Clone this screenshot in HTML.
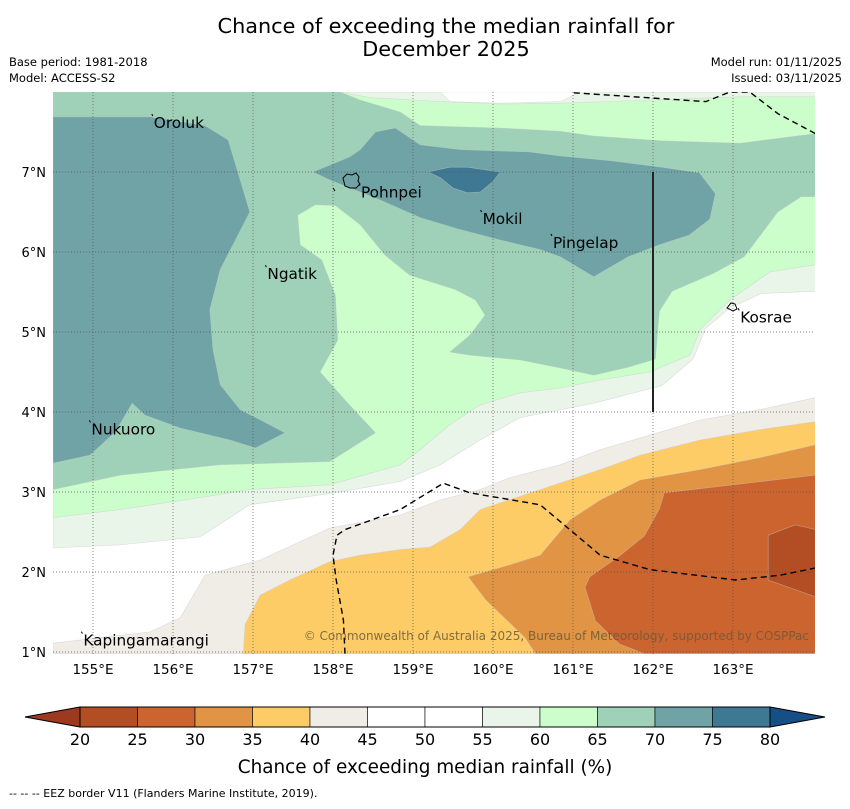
<!DOCTYPE html>
<html><head><meta charset="utf-8"><style>
html,body{margin:0;padding:0;background:#fff;}
svg text{font-family:"DejaVu Sans","Liberation Sans",sans-serif;}
</style></head><body>
<svg id="chart" width="850" height="804" viewBox="0 0 850 804" xmlns="http://www.w3.org/2000/svg">
<text x="446" y="33" font-size="20.8" text-anchor="middle">Chance of exceeding the median rainfall for</text>
<text x="446" y="56" font-size="20.8" text-anchor="middle">December 2025</text>
<text x="9" y="66" font-size="11.5">Base period: 1981-2018</text>
<text x="9" y="82" font-size="11.5">Model: ACCESS-S2</text>
<text x="842" y="66" font-size="11.5" text-anchor="end">Model run: 01/11/2025</text>
<text x="842" y="82" font-size="11.5" text-anchor="end">Issued: 03/11/2025</text>
<defs><clipPath id="mapclip"><rect x="53" y="92" width="762" height="562"/></clipPath></defs>
<g id="map" clip-path="url(#mapclip)"></g>
<g id="overlay"></g>
<g id="cbar"></g>
<text x="425" y="773" font-size="18.4" text-anchor="middle">Chance of exceeding median rainfall (%)</text>
<text x="9" y="797" font-size="11">--  --  -- EEZ border V11 (Flanders Marine Institute, 2019).</text>
</svg>
<script>
// ---- data ----
const lonTicks=[155,156,157,158,159,160,161,162,163];
const latTicks=[1,2,3,4,5,6,7];
const cbLevels=[20,25,30,35,40,45,50,55,60,65,70,75,80];
const cbColors=['#b34e24','#cc6430','#e09444','#fdcc66','#f0ece6','#ffffff','#ffffff','#eaf5ea','#ccfecc','#9fd1b8','#6fa3a6','#3f7893'];
const underColor='#9c3a20', overColor='#164f86';
const ge55=[[154.5,8],[164.03,8],[164.03,5.51],[163.35,5.48],[162.96,5.3],[162.66,5.05],[162.5,4.66],[162.11,4.33],[161.26,4.11],[160.34,3.93],[159.84,3.65],[159.34,3.34],[158.84,3.13],[157.96,2.98],[156.96,2.84],[156.34,2.44],[155.34,2.34],[154.5,2.3]];
const ge60=[[154.5,8],[164.03,8],[164.03,5.84],[163.46,5.75],[162.96,5.4],[162.59,5.03],[162.46,4.71],[161.96,4.5],[161.34,4.4],[160.84,4.3],[160.34,4.24],[159.84,4.09],[159.46,3.84],[159.09,3.53],[158.84,3.34],[157.96,3.09],[156.96,3.03],[156.34,2.93],[155.34,2.78],[154.5,2.68]];
const topStrip55=[[158.09,8],[164.03,8],[164.03,7.94],[163.09,7.94],[161.96,7.9],[160.84,7.86],[160.09,7.85],[159.34,7.88],[158.46,7.93]];
const topWhite=[[159.34,8],[161.09,8],[160.84,7.88],[160.09,7.86],[159.46,7.88]];
const ge65=[[154.5,8],[158.09,8],[158.34,7.9],[158.84,7.75],[159.09,7.58],[160.09,7.55],[160.84,7.51],[161.26,7.45],[162.11,7.39],[163.09,7.36],[164.03,7.48],[164.03,6.69],[163.85,6.69],[163.56,6.5],[163.14,5.94],[162.75,5.73],[162.24,5.51],[162.08,5.26],[162.03,4.66],[161.69,4.56],[161.26,4.46],[160.84,4.55],[160.34,4.65],[159.71,4.71],[159.46,4.75],[159.71,4.96],[159.9,5.21],[159.78,5.4],[159.53,5.53],[158.96,5.71],[158.65,5.96],[158.34,6.34],[158.03,6.58],[157.78,6.59],[157.56,6.46],[157.59,6.09],[157.86,5.9],[158.03,5.46],[158.06,4.9],[157.84,4.5],[158.15,4.15],[158.53,3.74],[157.96,3.38],[156.59,3.34],[155.34,3.21],[154.5,3.03]];
const ge70a=[[154.5,7.69],[155.71,7.69],[156.4,7.58],[156.69,7.4],[156.84,6.9],[156.96,6.5],[156.78,6.15],[156.59,5.78],[156.46,5.28],[156.5,4.78],[156.59,4.34],[156.84,4.03],[157.21,3.84],[157.4,3.74],[157.03,3.55],[156.71,3.65],[156.09,3.8],[155.65,3.96],[155.49,4.11],[155.28,3.75],[154.96,3.46],[154.5,3.36]];
const ge70b=[[157.75,7],[158.21,7.19],[158.34,7.28],[158.53,7.5],[158.78,7.55],[159.09,7.34],[159.59,7.28],[160.46,7.25],[160.84,7.2],[161.48,7.14],[162.11,7.06],[162.58,6.99],[162.78,6.73],[162.71,6.41],[162.45,6.21],[162.08,6.09],[161.69,5.94],[161.26,5.69],[160.84,5.94],[160.59,6.03],[160.09,6.15],[159.59,6.28],[159.09,6.43],[158.59,6.65],[157.96,6.9]];
const ge75=[[159.19,7],[159.46,7.06],[159.68,7.06],[160.09,7],[160,6.88],[159.84,6.75],[159.68,6.74],[159.5,6.8],[159.34,6.93]];
const le45=[[154.5,1.11],[155.09,1.18],[155.71,1.25],[156.09,1.43],[156.4,1.96],[157.09,2.15],[157.96,2.55],[158.84,2.71],[159.34,2.9],[159.84,3.03],[160.21,3.18],[160.84,3.34],[161.34,3.53],[161.96,3.71],[162.59,3.9],[163.34,4.03],[164.03,4.18],[164.03,0.98],[154.5,0.98]];
const le40=[[156.88,0.98],[156.9,1.34],[157.09,1.71],[157.46,1.9],[157.96,2.13],[158.34,2.21],[158.84,2.28],[159.21,2.31],[159.59,2.53],[159.84,2.78],[160.59,3.03],[161.34,3.28],[161.84,3.46],[162.59,3.65],[163.34,3.78],[164.03,3.88],[164.03,0.98]];
const le35=[[159.69,1.94],[160.21,2.09],[160.59,2.21],[160.96,2.65],[161.34,2.9],[161.84,3.15],[162.59,3.28],[163.34,3.43],[164.03,3.59],[164.03,0.98],[160.53,0.98],[160.4,1.18],[159.91,1.65]];
const le30=[[161.21,1.94],[161.58,2.2],[161.89,2.45],[162.08,2.79],[162.14,2.99],[164.03,3.21],[164.03,0.98],[161.89,0.98],[161.58,1.1],[161.28,1.39],[161.15,1.81]];
const le25=[[163.44,2.46],[163.78,2.59],[164.03,2.53],[164.03,1.69],[163.78,1.78],[163.44,1.9]];
const eezTop=[[161.01,7.99],[162.66,7.88],[162.96,8],[163.21,8],[163.56,7.73],[164.03,7.48]];
const eezBottom=[[158.15,0.98],[158.13,1.4],[158.04,1.9],[158,2.21],[158.05,2.46],[158.15,2.53],[158.84,2.78],[159.38,3.11],[159.71,2.99],[160.59,2.84],[160.96,2.53],[161.34,2.21],[161.96,2.03],[163.03,1.9],[163.59,1.96],[164.03,2.05]];
const placeNames=['Oroluk','Pohnpei','Mokil','Pingelap','Ngatik','Kosrae','Nukuoro','Kapingamarangi'];
const placeLon=[155.76,158.35,159.87,160.75,157.18,163.09,154.98,154.88];
const placeLat=[7.55,6.68,6.35,6.05,5.66,5.12,3.72,1.08];

// ---- axes ----
const X=lon=>53+(lon-154.5)*80;
const Y=lat=>92+(8-lat)*80;
const NS='http://www.w3.org/2000/svg';
const map=document.getElementById('map'), ov=document.getElementById('overlay'), cb=document.getElementById('cbar');
function mk(tag,attrs,parent){const e=document.createElementNS(NS,tag);for(const k in attrs)e.setAttribute(k,attrs[k]);parent.appendChild(e);return e;}
const pts=a=>a.map(p=>X(p[0]).toFixed(1)+','+Y(p[1]).toFixed(1)).join(' ');

let bg=mk('rect',{x:53,y:92,width:762,height:562,fill:'#ffffff'},map);


const layers=[['contour-ge55',ge55,'#eaf5ea'],['contour-ge60',ge60,'#ccfecc'],['top-strip-55',topStrip55,'#eaf5ea'],['top-white-patch',topWhite,'#ffffff'],['contour-ge65',ge65,'#9fd1b8'],['contour-ge70-west',ge70a,'#6fa3a6'],['contour-ge70-east',ge70b,'#6fa3a6'],['contour-ge75',ge75,'#3f7893'],['contour-le45',le45,'#f0ece6'],['contour-le40',le40,'#fdcc66'],['contour-le35',le35,'#e09444'],['contour-le30',le30,'#cc6430'],['contour-le25',le25,'#b34e24']];
layers.forEach(l=>{
  const p=mk('polygon',{points:pts(l[1]),fill:l[2],stroke:'#c8c8c8','stroke-width':0.6,'stroke-opacity':0.6},map);
  
  
});
lonTicks.forEach(v=>{
  const g=mk('line',{x1:X(v),x2:X(v),y1:92,y2:654,stroke:'#555','stroke-width':0.7,'stroke-dasharray':'1,2'},map);
  
  
});
latTicks.forEach(v=>{
  const g=mk('line',{x1:53,x2:815,y1:Y(v),y2:Y(v),stroke:'#555','stroke-width':0.7,'stroke-dasharray':'1,2'},map);
  
  
});
[[eezTop,'eez-border-north'],[eezBottom,'eez-border-south']].forEach(e=>{
  const l=mk('polyline',{points:pts(e[0]),fill:'none',stroke:'#000','stroke-width':1.4,'stroke-dasharray':'6,4'},map);
  
  
});
let vl=mk('line',{x1:X(162),x2:X(162),y1:Y(7),y2:Y(4),stroke:'#222','stroke-width':2},map);


let pi=mk('path',{d:'M343,178 l4,-4 l5,1 l4,-2 l3,4 l-1,4 l2,3 l-4,4 l-6,0 l-5,-2 z',fill:'none',stroke:'#000','stroke-width':1},map);


let ki=mk('path',{d:'M727,308 l4,-5 l4,1 l2,5 l-4,2 z',fill:'none',stroke:'#000','stroke-width':1},map);


let sd=mk('line',{x1:333,y1:188,x2:335,y2:191,stroke:'#000','stroke-width':1},map);


placeNames.forEach((n,i)=>{
  const t=mk('text',{x:X(placeLon[i]),y:Y(placeLat[i]),'font-size':15.3},map);
  t.textContent=n;
  
  
  const m=mk('line',{x1:X(placeLon[i])-2,y1:Y(placeLat[i])-14,x2:X(placeLon[i])-1,y2:Y(placeLat[i])-12,stroke:'#000','stroke-width':1},map);
  
  
});
let cp=mk('text',{x:809,y:640,'font-size':12,'text-anchor':'end',fill:'#6b5a3a','fill-opacity':0.85},map);
cp.textContent='© Commonwealth of Australia 2025, Bureau of Meteorology, supported by COSPPac';


lonTicks.forEach(v=>{
  const t=mk('text',{x:X(v),y:674,'font-size':13.5,'text-anchor':'middle'},ov);
  t.textContent=v+'°E';
  
  
});
latTicks.forEach(v=>{
  const t=mk('text',{x:46,y:Y(v)+5,'font-size':13,'text-anchor':'end'},ov);
  t.textContent=v+'°N';
  
  
});
const cbX=v=>80+(v-20)*11.5;
const cbY=707, cbH=20;
let ut=mk('polygon',{points:`25,${cbY+cbH/2} ${cbX(20)},${cbY} ${cbX(20)},${cbY+cbH}`,fill:underColor,stroke:'#000','stroke-width':1},cb);


let ot=mk('polygon',{points:`825,${cbY+cbH/2} ${cbX(80)},${cbY} ${cbX(80)},${cbY+cbH}`,fill:overColor,stroke:'#000','stroke-width':1},cb);


cbColors.forEach((c,i)=>{
  const r=mk('rect',{x:cbX(cbLevels[i]),y:cbY,width:cbX(cbLevels[i+1])-cbX(cbLevels[i]),height:cbH,fill:c,stroke:'#000','stroke-width':0.6},cb);
  
  
});
let cbo=mk('rect',{x:cbX(20),y:cbY,width:cbX(80)-cbX(20),height:cbH,fill:'none',stroke:'#000','stroke-width':1},cb);


cbLevels.forEach(v=>{
  const t=mk('text',{x:cbX(v),y:745,'font-size':16,'text-anchor':'middle'},cb);
  t.textContent=v;
  
  
});
</script>
</body></html>
